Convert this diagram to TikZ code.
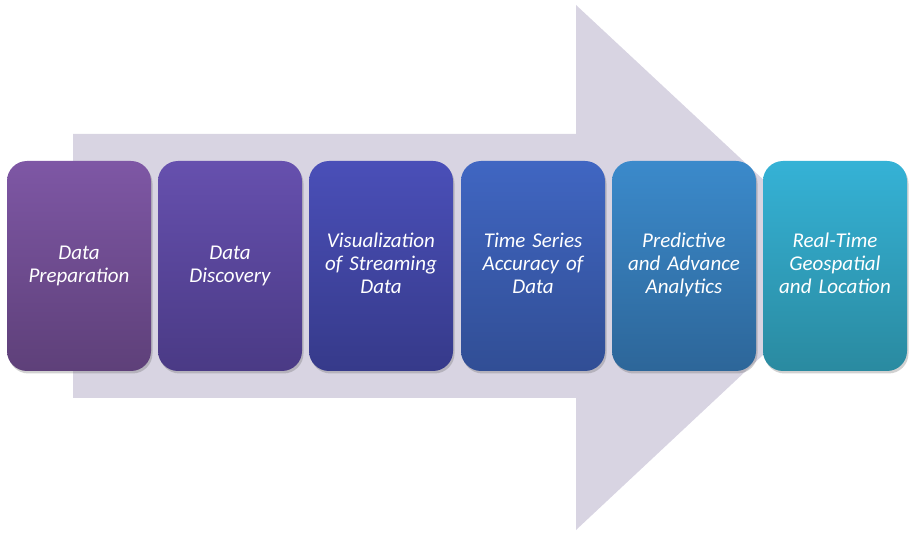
\documentclass[tikz,border=0pt]{standalone}
\usepackage{fontspec}
\setmainfont{Carlito}
\usetikzlibrary{shadows}
\definecolor{arrowfill}{HTML}{D8D4E2}
\definecolor{aT}{HTML}{7E57A5}\definecolor{aB}{HTML}{5E4079}
\definecolor{bT}{HTML}{6650AE}\definecolor{bB}{HTML}{4A3A85}
\definecolor{cT}{HTML}{4A4FB8}\definecolor{cB}{HTML}{363A8A}
\definecolor{dT}{HTML}{4066C2}\definecolor{dB}{HTML}{314E95}
\definecolor{eT}{HTML}{3B8ACB}\definecolor{eB}{HTML}{2D6699}
\definecolor{fT}{HTML}{35B2D6}\definecolor{fB}{HTML}{2A8AA0}
\tikzset{
  stagebox/.style={rounded corners=20pt, minimum width=144pt, minimum height=210pt,
    inner sep=0pt, text width=140pt, align=center, text=white,
    font=\fontsize{21}{23}\selectfont\itshape,
    execute at begin node=\strut, execute at end node=\strut,
    drop shadow={shadow xshift=1.5pt, shadow yshift=-2.5pt, opacity=0.3, fill=black!60}},
}
\begin{document}
\begin{tikzpicture}[x=1pt,y=1pt]
\useasboundingbox (0,0) rectangle (914,539);
% big arrow
\fill[arrowfill] (73,405) -- (576,405) -- (576,534) -- (857,272) -- (576,9) -- (576,141) -- (73,141) -- cycle;
% boxes
\node[stagebox, top color=aT, bottom color=aB] (s1) at (79,273) {Data\\Preparation};
\node[stagebox, top color=bT, bottom color=bB] (s2) at (230,273) {Data\\Discovery};
\node[stagebox, top color=cT, bottom color=cB] (s3) at (381,273) {Visualization\\of Streaming\\Data};
\node[stagebox, top color=dT, bottom color=dB] (s4) at (533,273) {Time Series\\Accuracy of\\Data};
\node[stagebox, top color=eT, bottom color=eB] (s5) at (684,273) {Predictive\\and Advance\\Analytics};
\node[stagebox, top color=fT, bottom color=fB] (s6) at (835,273) {Real-Time\\Geospatial\\and Location};
\end{tikzpicture}
\end{document}
